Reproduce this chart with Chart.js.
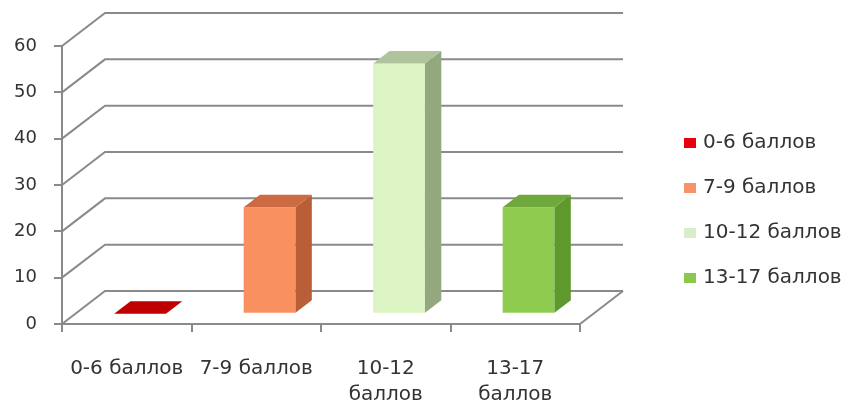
<!DOCTYPE html>
<html>
<head>
<meta charset="utf-8">
<script src="https://cdn.jsdelivr.net/npm/chart.js@4/dist/chart.umd.min.js"></script>
<style>
  html, body { margin: 0; padding: 0; background: #ffffff; }
  #wrap { width: 848px; height: 408px; position: relative; }
</style>
</head>
<body>
<div id="wrap"><canvas id="c" width="848" height="408"></canvas></div>
<script>
// ---- data ----
const categories = ['0-6 баллов', '7-9 баллов', '10-12 баллов', '13-17 баллов'];
const tickLabels = [['0-6 баллов'], ['7-9 баллов'], ['10-12', 'баллов'], ['13-17', 'баллов']];
const values = [0, 23, 54, 23];
const yTicks = [0, 10, 20, 30, 40, 50, 60];

// ---- styles ----
const frontColors = ['#E00000', '#F99060', '#DCF3C4', '#8FCB4E'];
const sideColors  = ['#A80000', '#B95E37', '#93A87F', '#5F992D'];
const topColors   = ['#C00000', '#CC6B42', '#AFC39C', '#70A93B'];
const legendColors = ['#E8000C', '#F7936A', '#D8EEC8', '#8CC84B'];
const gridColor = '#8A8A8A';
const textColor = '#333333';
const FONT = "'DejaVu Sans', sans-serif";

const DX = 43, DY = -33;          // full depth of the 3D box
const FRONT = 0.31, BAR_DEPTH = 0.38;

const threeD = {
  id: 'threeD',
  beforeDatasetsDraw(chart) {
    const { ctx, chartArea: a, scales: { y } } = chart;
    ctx.save();
    ctx.strokeStyle = gridColor;
    ctx.lineWidth = 2;
    y.ticks.forEach(t => {
      const py = y.getPixelForValue(t.value);
      ctx.beginPath();
      ctx.moveTo(a.left, py);
      ctx.lineTo(a.left + DX, py + DY);
      ctx.lineTo(a.right + DX, py + DY);
      ctx.stroke();
    });
    const p0 = y.getPixelForValue(0);
    ctx.beginPath();
    ctx.moveTo(a.right, p0);
    ctx.lineTo(a.right + DX, p0 + DY);
    ctx.stroke();
    ctx.restore();
    ctx.save();
    ctx.translate(DX * FRONT, DY * FRONT);
  },
  afterDatasetsDraw(chart) {
    const { ctx } = chart;
    const meta = chart.getDatasetMeta(0);
    const bx = DX * BAR_DEPTH, by = DY * BAR_DEPTH;
    meta.data.forEach((bar, i) => {
      const p = bar.getProps(['x', 'y', 'base', 'width'], true);
      const l = p.x - p.width / 2, r = p.x + p.width / 2;
      const top = p.y, base = p.base;
      if (base - top > 0.5) {
        ctx.fillStyle = sideColors[i];
        ctx.beginPath();
        ctx.moveTo(r, top);
        ctx.lineTo(r + bx, top + by);
        ctx.lineTo(r + bx, base + by);
        ctx.lineTo(r, base);
        ctx.closePath();
        ctx.fill();
      }
      ctx.fillStyle = topColors[i];
      ctx.beginPath();
      ctx.moveTo(l, top);
      ctx.lineTo(l + bx, top + by);
      ctx.lineTo(r + bx, top + by);
      ctx.lineTo(r, top);
      ctx.closePath();
      ctx.fill();
    });
    ctx.restore();
  },
  afterDraw(chart) {
    const { ctx } = chart;
    ctx.save();
    ctx.font = '20px ' + FONT;
    ctx.textBaseline = 'middle';
    ctx.textAlign = 'left';
    categories.forEach((c, i) => {
      const cy = 143 + 45 * i;
      ctx.fillStyle = legendColors[i];
      ctx.fillRect(684, cy - 5, 12, 10);
      ctx.fillStyle = textColor;
      ctx.fillText(c, 703, cy);
    });
    ctx.restore();
  }
};

new Chart(document.getElementById('c'), {
  type: 'bar',
  data: {
    labels: tickLabels,
    datasets: [{
      data: values,
      backgroundColor: frontColors,
      borderWidth: 0,
      barPercentage: 0.4,
      categoryPercentage: 1.0
    }]
  },
  options: {
    responsive: false,
    animation: false,
    devicePixelRatio: 1,
    layout: { padding: { top: 46, left: 0, right: 268, bottom: 0 } },
    plugins: { legend: { display: false }, tooltip: { enabled: false } },
    scales: {
      x: {
        grid: { display: true, drawOnChartArea: false, drawTicks: true, tickLength: 8, color: gridColor, lineWidth: 2, offset: true },
        border: { display: true, color: gridColor, width: 2 },
        ticks: { color: textColor, font: { family: FONT, size: 20, lineHeight: 1.3 }, padding: 24, maxRotation: 0, autoSkip: false },
        afterFit(s) { s.height = 84; }
      },
      y: {
        min: 0, max: 60,
        afterBuildTicks(s) { s.ticks = yTicks.map(v => ({ value: v })); },
        grid: { display: true, drawOnChartArea: false, drawTicks: true, tickLength: 8, color: gridColor, lineWidth: 2 },
        border: { display: true, color: gridColor, width: 2 },
        ticks: { color: textColor, font: { family: FONT, size: 18 }, padding: 17 },
        afterFit(s) { s.width = 62; }
      }
    }
  },
  plugins: [threeD]
});
</script>
</body>
</html>
